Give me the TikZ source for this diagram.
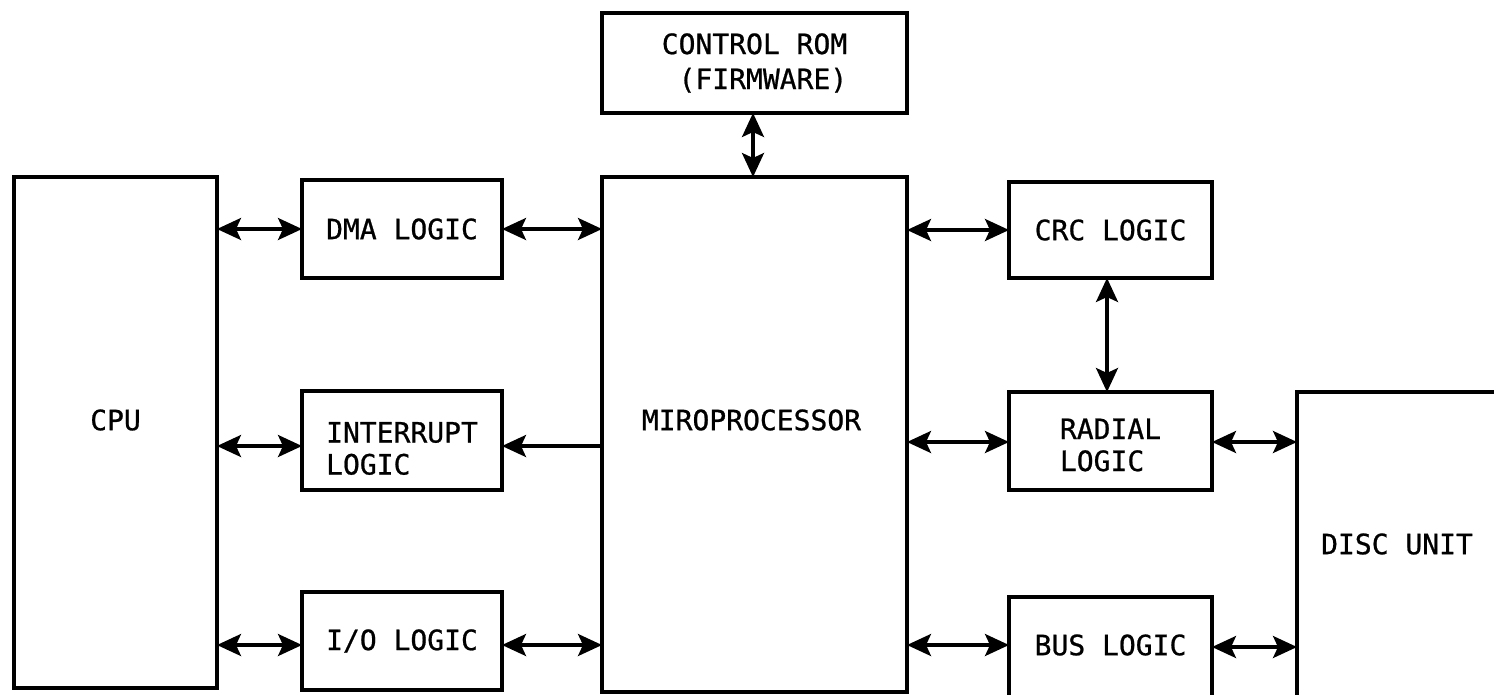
\documentclass[tikz,border=0pt]{standalone}
\usepackage{fontspec}
\newfontfamily\typ[FakeBold=0.8]{DejaVu Sans Mono}
\usetikzlibrary{arrows.meta}
\tikzset{hd/.tip={Stealth[length=24pt 0 0,width=22pt 0 0,inset=5pt 0]}}
\begin{document}
\begin{tikzpicture}[x=1pt,y=-1pt,
  box/.style={draw, rectangle, line width=3.8pt, inner sep=0pt, outer sep=0pt,
    font=\typ\fontsize{28}{32}\selectfont, align=left},
  lbl/.style={font=\typ\fontsize{28}{32}\selectfont, align=left},
  arr/.style={line width=3.2pt, hd-hd},
  arrone/.style={line width=3.2pt, -hd}]
\useasboundingbox (0,0) rectangle (1494,694);
\clip (0,0) rectangle (1494,694);
% boxes
\node[box, minimum width=203pt, minimum height=511pt,
  label={[lbl,yshift=12.5pt]center:CPU}] (cpu) at (115.5,432.5) {};
\node[box, minimum width=200pt, minimum height=98pt] (dma) at (402,229) {DMA LOGIC};
\node[box, minimum width=200pt, minimum height=99pt,
  label={[lbl,yshift=-8pt]center:INTERRUPT\\LOGIC}] (intr) at (402,440.5) {};
\node[box, minimum width=200pt, minimum height=98pt] (io) at (402,641) {I/O LOGIC};
\node[box, minimum width=305pt, minimum height=100pt, font=\typ\fontsize{28}{35}\selectfont] (rom) at (754.5,63) {CONTROL ROM\\\ (FIRMWARE)};
\node[box, minimum width=305pt, minimum height=515pt,
  label={[lbl,yshift=14.5pt,xshift=-3pt]center:MIROPROCESSOR}] (micro) at (754.5,434.5) {};
\node[box, minimum width=203pt, minimum height=96pt] (crc) at (1110.5,230) {CRC LOGIC};
\node[box, minimum width=203pt, minimum height=98pt,
  label={[lbl,yshift=-4pt]center:RADIAL\\LOGIC}] (radial) at (1110.5,441) {};
\node[box, minimum width=203pt, minimum height=203pt,
  label={[lbl,yshift=53.5pt]center:BUS LOGIC}] (bus) at (1110.5,698.5) {};
\node[box, minimum width=303pt, minimum height=408pt,
  label={[lbl,yshift=52pt,xshift=-51.5pt]center:DISC UNIT}] (disc) at (1448.5,596) {};
% helper rows
\coordinate (yi) at (0,446);
\coordinate (yio) at (0,645);
\coordinate (yr) at (0,442);
\coordinate (yb) at (0,647);
\coordinate (xc) at (1107,0);
\coordinate (xr) at (753,0);
% connectors
\draw[arr] (cpu.east |- dma.west) -- (dma.west);
\draw[arr] (dma.east) -- (micro.west |- dma.east);
\draw[arr] (cpu.east |- yi) -- (intr.west |- yi);
\draw[arrone] (micro.west |- yi) -- (intr.east |- yi);
\draw[arr] (cpu.east |- yio) -- (io.west |- yio);
\draw[arr] (io.east |- yio) -- (micro.west |- yio);
\draw[arr] (rom.south -| xr) -- (micro.north -| xr);
\draw[arr] (micro.east |- crc.west) -- (crc.west);
\draw[arr] (crc.south -| xc) -- (radial.north -| xc);
\draw[arr] (micro.east |- yr) -- (radial.west |- yr);
\draw[arr] (radial.east |- yr) -- (disc.west |- yr);
\draw[arr] (micro.east |- yio) -- (bus.west |- yio);
\draw[arr] (bus.east |- yb) -- (disc.west |- yb);
\end{tikzpicture}
\end{document}
